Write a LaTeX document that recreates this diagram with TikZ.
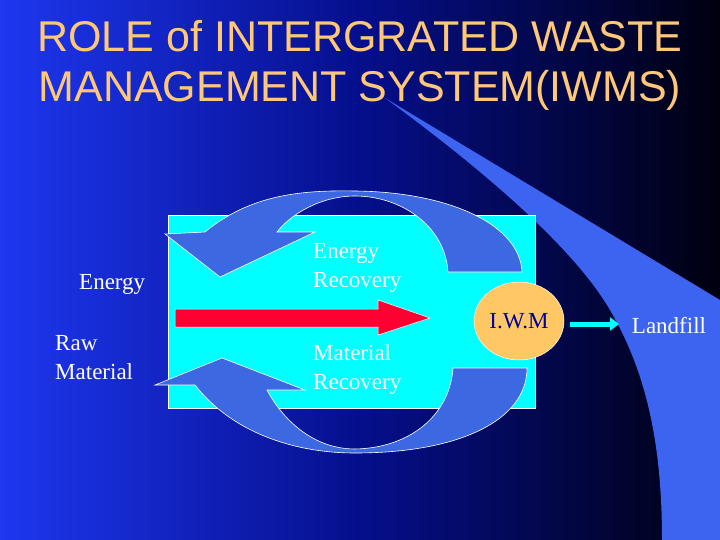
\documentclass[tikz,border=0pt]{standalone}
\usepackage{fontspec}
\usetikzlibrary{shapes.geometric,arrows.meta}
\setmainfont{Liberation Serif}
\newfontfamily\arialf{Liberation Sans}
\definecolor{bgL}{RGB}{30,55,240}
\definecolor{bgM}{RGB}{5,15,140}
\definecolor{bgR}{RGB}{0,0,15}
\definecolor{swoosh}{RGB}{60,100,240}
\definecolor{arrowblue}{RGB}{60,105,225}
\definecolor{titlec}{RGB}{255,200,120}
\definecolor{iwmc}{RGB}{255,200,100}
\definecolor{redarr}{RGB}{255,0,50}
\definecolor{cyanc}{RGB}{0,255,255}
\tikzset{
  lbl/.style={text=white,font=\fontsize{23}{29}\selectfont,align=left,inner sep=0pt},
  blu/.style={fill=arrowblue,draw=white,line width=0.6pt},
}
\begin{document}
\begin{tikzpicture}[x=1pt,y=-1pt]
\useasboundingbox (0,0) rectangle (720,540);
\shade[left color=bgL,right color=bgM] (0,0) rectangle (360.5,540);
\shade[left color=bgM,right color=bgR] (360,0) rectangle (720,540);
% swoosh
\fill[swoosh] (385,98) -- (720,300) -- (720,540) -- (662,540)
  .. controls (662,440) and (645,370) .. (610,310)
  .. controls (575,250) and (490,175) .. (385,98) -- cycle;
% title
\node[text=titlec,font=\arialf\fontsize{43}{50}\selectfont,align=center] (title) at (360,65) {ROLE of INTERGRATED WASTE\\MANAGEMENT SYSTEM(IWMS)};
% box
\node[draw=white,line width=0.6pt,fill=cyanc,minimum width=367pt,minimum height=193pt,inner sep=0pt] (box) at (351.5,311.5) {};
% top arrow
\path[blu] (205,232) .. controls (250,195) and (300,190) .. (355,191)
  .. controls (450,192) and (520,225) .. (522,272) -- (448,272)
  .. controls (445,225) and (400,196) .. (355,196)
  .. controls (320,196) and (290,215) .. (277,232) -- (315,232) -- (220,277) -- (165,234) -- cycle;
% bottom arrow
\path[blu] (195,385) .. controls (230,430) and (290,453) .. (355,453)
  .. controls (460,453) and (527,420) .. (527,368) -- (453,368)
  .. controls (450,415) and (410,448) .. (355,449)
  .. controls (310,449) and (280,415) .. (267,390) -- (305,390) -- (222,358) -- (155,385) -- cycle;
% red arrow
\path[fill=redarr,draw=white,line width=0.5pt] (175,309) -- (378,309) -- (378,300) -- (430,318) -- (378,335) -- (378,327) -- (175,327) -- cycle;
% IWM
\node[ellipse,fill=iwmc,draw=white,line width=0.5pt,minimum width=90pt,minimum height=78pt,inner sep=0pt,
  text=blue!60!black,font=\fontsize{23}{24}\selectfont] (iwm) at (519,321) {I.W.M};
\node[lbl] (land) at (669,326) {Landfill};
\coordinate (a0) at (570,324);
\coordinate (a1) at (619,324);
\draw[cyanc,line width=5pt,-{Triangle[length=9pt,width=13pt]}] (a0) -- (a1);
% labels
\node[lbl,anchor=west] (energy) at (79,284) {Energy};
\node[lbl,anchor=west] (raw) at (55,358) {Raw\\Material};
\node[lbl,anchor=west] (er) at (313,268) {Energy\\Recovery};
\node[lbl,anchor=west] (mr) at (313,370) {Material\\Recovery};
\end{tikzpicture}
\end{document}
